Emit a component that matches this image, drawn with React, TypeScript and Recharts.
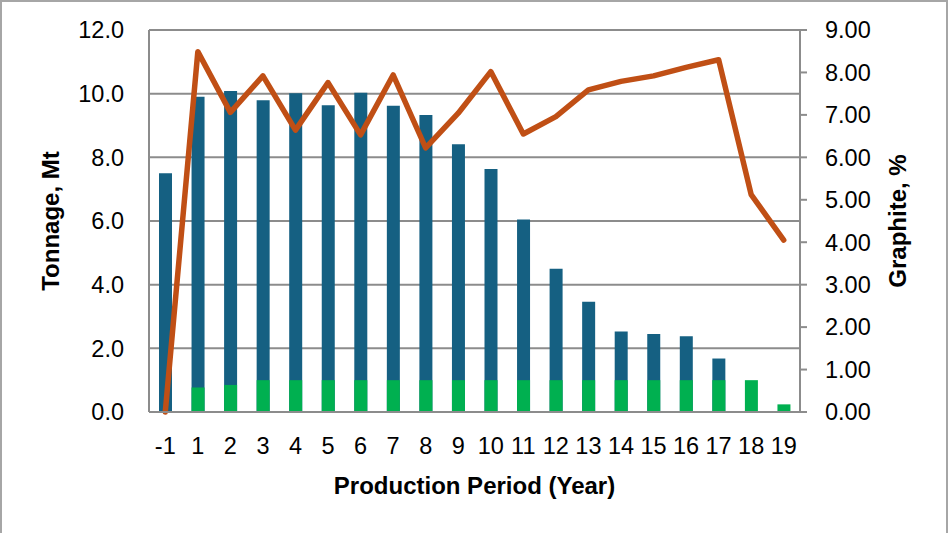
import { Bar, CartesianGrid, ComposedChart, Label, Line, XAxis, YAxis } from 'recharts';

const years = ['-1', '1', '2', '3', '4', '5', '6', '7', '8', '9', '10', '11', '12', '13', '14', '15', '16', '17', '18', '19'];
// total tonnage, Mt (dark blue bars)
const tonnage = [7.5, 9.9, 10.08, 9.79, 10.01, 9.64, 10.03, 9.62, 9.33, 8.41, 7.63, 6.05, 4.5, 3.46, 2.53, 2.45, 2.38, 1.68, 0, 0];
// green bars drawn over the blue ones
const feed = [0, 0.77, 0.85, 1, 1, 1, 1, 1, 1, 1, 1, 1, 1, 1, 1, 1, 1, 1, 1, 0.24];
// graphite grade, %
const grade = [0, 8.49, 7.06, 7.92, 6.64, 7.76, 6.53, 7.94, 6.22, 7.04, 8.02, 6.55, 6.96, 7.59, 7.79, 7.92, 8.12, 8.3, 5.12, 4.05];

const leftTicks = [0, 2, 4, 6, 8, 10, 12];
const rightTicks = [0, 1, 2, 3, 4, 5, 6, 7, 8, 9];

const data = years.map((year, i) => ({ year, tonnage: tonnage[i], feed: feed[i], grade: grade[i] }));

const GRAY = '#8c8c8c';
const tickStyle = { fontFamily: 'Liberation Sans, Arial, sans-serif', fontSize: 23.5, fill: '#000' };
const titleStyle = { fontFamily: 'Liberation Sans, Arial, sans-serif', fontSize: 24, fontWeight: 700, fill: '#000', textAnchor: 'middle' as const };

export default function App() {
  return (
    <div style={{ position: 'absolute', left: 0, top: 0, width: 950, height: 533, background: '#fff' }}>
      <div style={{ position: 'absolute', left: 0, top: 0, width: 948, height: 540, boxSizing: 'border-box', border: '2.5px solid #a6a6a6' }} />
      <ComposedChart width={950} height={533} data={data} margin={{ top: 30, right: 40, bottom: 39, left: 39 }} barGap={-13}>
        <CartesianGrid yAxisId="left" vertical={false} stroke={GRAY} strokeWidth={2} />
        <XAxis dataKey="year" interval={0} tick={tickStyle} tickLine={false} tickSize={0} tickMargin={25}
          axisLine={{ stroke: GRAY, strokeWidth: 2 }} height={82}>
          <Label value="Production Period (Year)" position="insideBottom" offset={0} style={titleStyle} />
        </XAxis>
        <YAxis yAxisId="left" domain={[0, 12]} ticks={leftTicks} tickFormatter={(v: number) => v.toFixed(1)}
          tick={tickStyle} tickLine={false} tickSize={0} tickMargin={25} width={110}
          axisLine={{ stroke: GRAY, strokeWidth: 2 }}>
          <Label value="Tonnage, Mt" angle={-90} position="insideLeft" offset={11} style={titleStyle} />
        </YAxis>
        <YAxis yAxisId="right" orientation="right" domain={[0, 9]} ticks={rightTicks} tickFormatter={(v: number) => v.toFixed(2)}
          tick={tickStyle} tickLine={{ stroke: GRAY, strokeWidth: 2 }} tickSize={7} tickMargin={18} width={110}
          axisLine={{ stroke: GRAY, strokeWidth: 2 }}>
          <Label value="Graphite, %" angle={-90} position="insideRight" offset={13} style={titleStyle} />
        </YAxis>
        <Bar yAxisId="left" dataKey="tonnage" fill="#156082" barSize={13} isAnimationActive={false} />
        <Bar yAxisId="left" dataKey="feed" fill="#00b050" barSize={13} isAnimationActive={false} />
        <Line yAxisId="right" dataKey="grade" type="linear" stroke="#c04f15" strokeWidth={5.5} dot={false}
          strokeLinejoin="round" strokeLinecap="round" isAnimationActive={false} />
      </ComposedChart>
    </div>
  );
}
